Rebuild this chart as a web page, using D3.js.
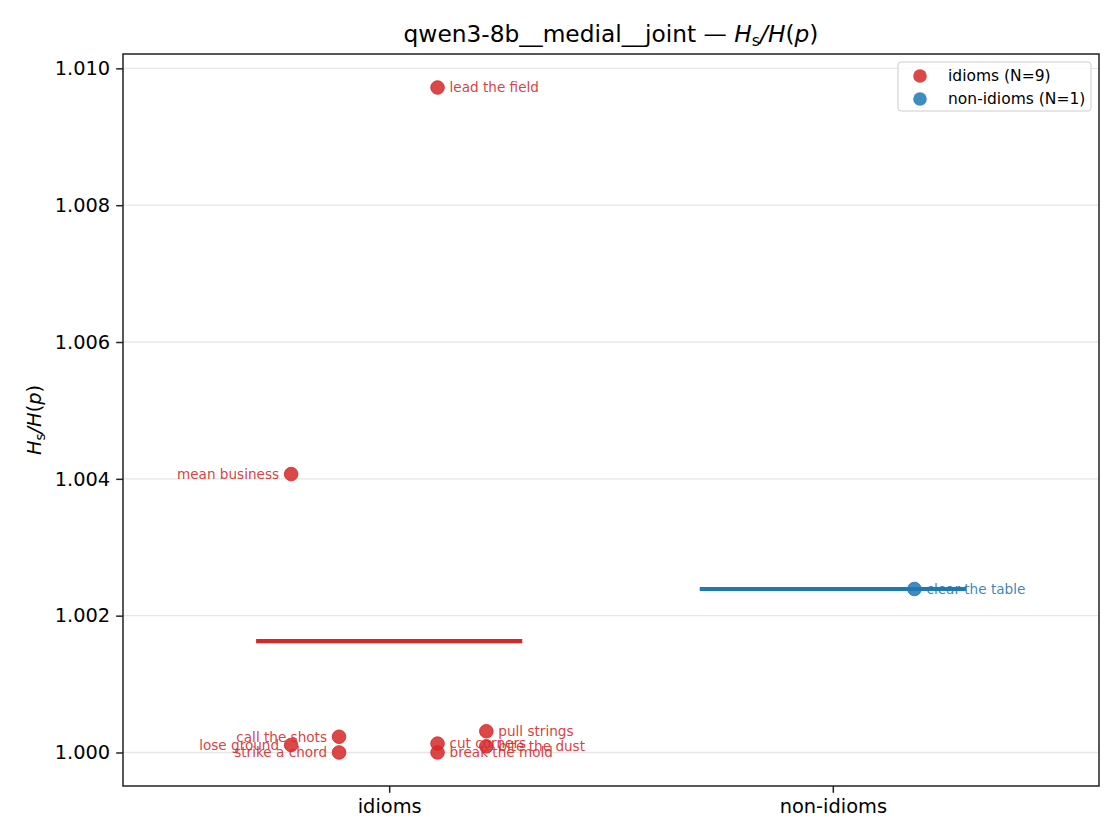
<!DOCTYPE html>
<html lang="en">
<head>
  <meta charset="UTF-8">
  <title>qwen3-8b__medial__joint</title>
  <script src="https://d3js.org/d3.v7.min.js"></script>
  <style>
    body { margin: 0; background: #fff; }
    text { font-family: "DejaVu Sans", sans-serif; }
  </style>
</head>
<body>
  <div id="chart"></div>

  <script>
  // Categories and their colours
  const groups = ["idioms", "non-idioms"];
  const groupColors = ["#d62728", "#1f77b4"];

  // One entry per phrase
  const phrases = ["lead the field", "mean business", "call the shots", "lose ground", "strike a chord",
                   "cut corners", "break the mold", "pull strings", "bite the dust", "clear the table"];
  const phraseGroup = [0, 0, 0, 0, 0, 0, 0, 0, 0, 1];
  const ratios = [1.00972, 1.00407, 1.00023, 1.00011, 1.00000,
                  1.00013, 1.00000, 1.00031, 1.00009, 1.00239];
  // horizontal jitter, in category units
  const jitter = [0.109, -0.221, -0.113, -0.221, -0.113, 0.109, 0.109, 0.219, 0.219, 0.184];

  const yTicks = [1.000, 1.002, 1.004, 1.006, 1.008, 1.010];

  // Dimensions
  const W = 1120, H = 840;
  const margin = { top: 54, right: 21, bottom: 54, left: 123 };
  const width = W - margin.left - margin.right;
  const height = H - margin.top - margin.bottom;

  const svg = d3.select("#chart").append("svg")
    .attr("width", W)
    .attr("height", H);

  // Scales
  const x = d3.scaleLinear().domain([-0.6, 1.6]).range([0, width]);
  const y = d3.scaleLinear().domain([0.99951, 1.01021]).range([height, 0]);

  const g = svg.append("g")
    .attr("transform", `translate(${margin.left},${margin.top})`);

  // Grid lines
  g.selectAll(".grid")
    .data(yTicks)
    .enter().append("line")
      .attr("x1", 0)
      .attr("x2", width)
      .attr("y1", d => y(d))
      .attr("y2", d => y(d))
      .attr("stroke", "#e6e6e6")
      .attr("stroke-width", 1.3);

  // Points
  const idx = d3.range(phrases.length);
  g.selectAll(".pt")
    .data(idx)
    .enter().append("circle")
      .attr("cx", i => x(phraseGroup[i] + jitter[i]))
      .attr("cy", i => y(ratios[i]))
      .attr("r", 6.8)
      .attr("fill", i => groupColors[phraseGroup[i]])
      .attr("fill-opacity", 0.85)
      .attr("stroke", i => groupColors[phraseGroup[i]])
      .attr("stroke-opacity", 0.85)
      .attr("stroke-width", 1);

  // Labels next to points
  g.selectAll(".lbl")
    .data(idx)
    .enter().append("text")
      .attr("x", i => x(phraseGroup[i] + jitter[i]) + (jitter[i] < 0 ? -12 : 12))
      .attr("y", i => y(ratios[i]))
      .attr("dy", "0.35em")
      .attr("text-anchor", i => jitter[i] < 0 ? "end" : "start")
      .attr("font-size", 13.6)
      .attr("fill", i => groupColors[phraseGroup[i]])
      .attr("fill-opacity", 0.9)
      .text(i => phrases[i]);

  // Mean lines per group
  groups.forEach((name, gi) => {
    const vals = ratios.filter((v, i) => phraseGroup[i] === gi);
    const m = d3.mean(vals);
    g.append("line")
      .attr("x1", x(gi - 0.3))
      .attr("x2", x(gi + 0.3))
      .attr("y1", y(m))
      .attr("y2", y(m))
      .attr("stroke", groupColors[gi])
      .attr("stroke-width", 4.2);
  });

  // Axes
  const xAxis = d3.axisBottom(x).tickValues([0, 1]).tickFormat(d => groups[d]).tickSize(6.8).tickPadding(6);
  const yAxis = d3.axisLeft(y).tickValues(yTicks).tickFormat(d3.format(".3f")).tickSize(6.8).tickPadding(6);

  const gx = g.append("g")
    .attr("transform", `translate(0,${height})`)
    .call(xAxis);
  const gy = g.append("g").call(yAxis);

  [gx, gy].forEach(a => {
    a.select(".domain").remove();
    a.selectAll("line").attr("stroke", "#222").attr("stroke-width", 1.5);
    a.selectAll("text").attr("font-size", 19.4).attr("fill", "#000")
      .style("font-family", "DejaVu Sans, sans-serif");
  });

  // Frame
  g.append("rect")
    .attr("width", width)
    .attr("height", height)
    .attr("fill", "none")
    .attr("stroke", "#222")
    .attr("stroke-width", 1.5);

  // Title
  const title = svg.append("text")
    .attr("x", margin.left + width / 2)
    .attr("y", 42)
    .attr("text-anchor", "middle")
    .attr("font-size", 23.3);
  title.append("tspan").text("qwen3-8b__medial__joint — ");
  title.append("tspan").attr("font-style", "italic").text("H");
  title.append("tspan").attr("font-size", 16).attr("dy", 4).text("s");
  title.append("tspan").attr("dy", -4).attr("font-style", "italic").text("/H");
  title.append("tspan").text("(");
  title.append("tspan").attr("font-style", "italic").text("p");
  title.append("tspan").text(")");

  // Y label
  const ylab = svg.append("text")
    .attr("transform", `translate(41,${margin.top + height / 2}) rotate(-90)`)
    .attr("text-anchor", "middle")
    .attr("font-size", 19.4);
  ylab.append("tspan").attr("font-style", "italic").text("H");
  ylab.append("tspan").attr("font-size", 13.5).attr("dy", 3.5).text("s");
  ylab.append("tspan").attr("dy", -3.5).attr("font-style", "italic").text("/H");
  ylab.append("tspan").text("(");
  ylab.append("tspan").attr("font-style", "italic").text("p");
  ylab.append("tspan").text(")");

  // Legend
  const legend = svg.append("g").attr("transform", "translate(898,62)");
  legend.append("rect")
    .attr("width", 193)
    .attr("height", 49)
    .attr("rx", 3)
    .attr("fill", "#fff")
    .attr("fill-opacity", 0.8)
    .attr("stroke", "#cccccc");
  groups.forEach((name, gi) => {
    const n = phraseGroup.filter(v => v === gi).length;
    legend.append("circle")
      .attr("cx", 22)
      .attr("cy", 14 + gi * 23)
      .attr("r", 6.8)
      .attr("fill", groupColors[gi])
      .attr("fill-opacity", 0.85);
    legend.append("text")
      .attr("x", 50)
      .attr("y", 14 + gi * 23)
      .attr("dy", "0.35em")
      .attr("font-size", 15.5)
      .text(`${name} (N=${n})`);
  });
  </script>
</body>
</html>
